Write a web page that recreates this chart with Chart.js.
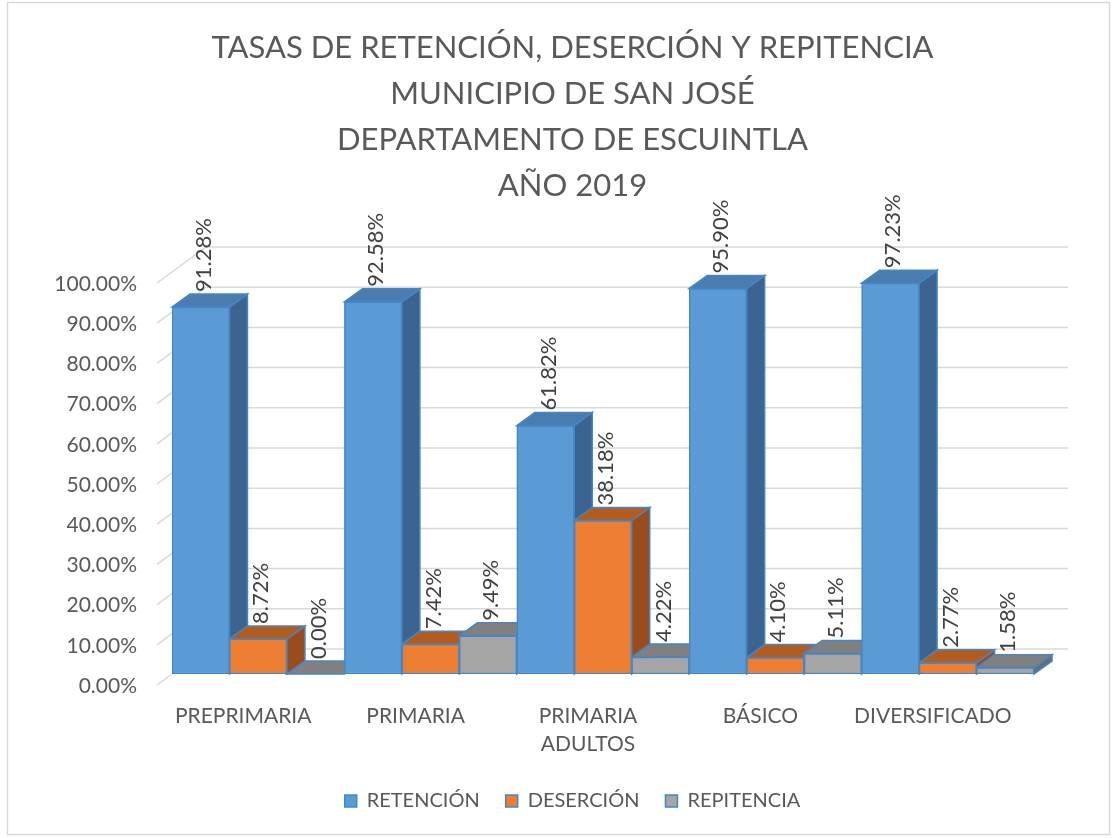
<!DOCTYPE html>
<html><head><meta charset="utf-8">
<script src="https://cdn.jsdelivr.net/npm/chart.js@4.4.1/dist/chart.umd.min.js"></script>
<style>html,body{margin:0;padding:0;background:#fff}#wrap{width:1117px;height:838px}</style>
</head><body><div id="wrap"><canvas id="c" width="1117" height="838"></canvas></div>
<script>
const titleLines = ['TASAS DE RETENCIÓN, DESERCIÓN Y REPITENCIA','MUNICIPIO DE SAN JOSÉ','DEPARTAMENTO DE ESCUINTLA','AÑO 2019'];
const categories = ['PREPRIMARIA','PRIMARIA',['PRIMARIA','ADULTOS'],'BÁSICO','DIVERSIFICADO'];
const seriesNames = ['RETENCIÓN','DESERCIÓN','REPITENCIA'];
const retencion = [91.28, 92.58, 61.82, 95.90, 97.23];
const desercion = [8.72, 7.42, 38.18, 4.10, 2.77];
const repitencia = [0.00, 9.49, 4.22, 5.11, 1.58];
const yMin = 0, yMax = 100, yStep = 10;

const frontColors = ['#5b9bd5', '#ed7d31', '#a5a5a5'];
const topColors = ['#4a7cb0', '#b35c20', '#808080'];
const sideColors = ['#3b6590', '#9a4c1c', '#6e6e6e'];
const edgeColor = '#4586c6';
const FONT = 'Lato';

const DEPTH = {dx: 18, dy: 13};
const WALL = {dx: 34, dy: 25};
const FRONT = {dx: -15, dy: 11};

function poly(ctx, pts, fill) {
  ctx.beginPath();
  ctx.moveTo(pts[0][0], pts[0][1]);
  for (let k = 1; k < pts.length; k++) ctx.lineTo(pts[k][0], pts[k][1]);
  ctx.closePath();
  ctx.fillStyle = fill; ctx.fill();
  ctx.strokeStyle = edgeColor; ctx.lineWidth = 1.5; ctx.stroke();
}

const threeD = {
  id: 'threeD',
  beforeDraw(chart) {
    const ctx = chart.ctx;
    ctx.save();
    ctx.fillStyle = '#fff';
    ctx.fillRect(0, 0, chart.width, chart.height);
    ctx.strokeStyle = '#d9d9d9'; ctx.lineWidth = 1.5;
    ctx.strokeRect(7.5, 2.5, chart.width - 15, chart.height - 6);
    ctx.restore();
  },
  beforeDatasetsDraw(chart) {
    const {ctx, chartArea: a, scales: {y}} = chart;
    ctx.save();
    ctx.strokeStyle = '#d9d9d9'; ctx.lineWidth = 1.5;
    for (let v = yMin; v <= yMax; v += yStep) {
      const py = y.getPixelForValue(v);
      ctx.beginPath();
      ctx.moveTo(a.left + FRONT.dx, py + FRONT.dy);
      ctx.lineTo(a.left + WALL.dx, py - WALL.dy);
      ctx.lineTo(a.right + WALL.dx, py - WALL.dy);
      ctx.stroke();
    }
    const n = chart.data.labels.length;
    for (let i = 0; i < n; i++) {
      for (let d = 0; d < chart.data.datasets.length; d++) {
        const el = chart.getDatasetMeta(d).data[i];
        const L = el.x - el.width / 2, R = el.x + el.width / 2, T = el.y, B = el.base;
        poly(ctx, [[R, T], [R + DEPTH.dx, T - DEPTH.dy], [R + DEPTH.dx, B - DEPTH.dy], [R, B]], sideColors[d]);
        poly(ctx, [[L, T], [L + DEPTH.dx, T - DEPTH.dy], [R + DEPTH.dx, T - DEPTH.dy], [R, T]], topColors[d]);
      }
    }
    ctx.restore();
  },
  afterDatasetsDraw(chart) {
    const ctx = chart.ctx;
    ctx.save();
    ctx.fillStyle = '#404040';
    ctx.font = '22px ' + FONT;
    ctx.textAlign = 'left'; ctx.textBaseline = 'middle';
    chart.data.datasets.forEach((ds, d) => {
      chart.getDatasetMeta(d).data.forEach((el, i) => {
        ctx.save();
        ctx.translate(el.x + 3, el.y - DEPTH.dy - 2);
        ctx.rotate(-Math.PI / 2);
        ctx.fillText(ds.data[i].toFixed(2) + '%', 0, 0);
        ctx.restore();
      });
    });
    ctx.restore();
  }
};

const seriesData = [retencion, desercion, repitencia];
new Chart(document.getElementById('c'), {
  type: 'bar',
  data: {
    labels: categories,
    datasets: seriesData.map((arr, d) => ({
      label: seriesNames[d],
      data: arr,
      backgroundColor: frontColors[d],
      borderColor: edgeColor,
      borderWidth: 1.5,
      borderSkipped: false,
      categoryPercentage: 1,
      barPercentage: 1
    }))
  },
  options: {
    responsive: false,
    animation: false,
    devicePixelRatio: 1,
    layout: {padding: {left: 28, right: 0, top: 0, bottom: 17}},
    plugins: {
      title: {
        display: true, text: titleLines, color: '#595959',
        font: {family: FONT, size: 31, weight: 'normal', lineHeight: 46 / 31},
        padding: {top: 25, bottom: 63}
      },
      legend: {
        position: 'bottom',
        labels: {color: '#595959', font: {family: FONT, size: 20}, boxWidth: 12, boxHeight: 12, padding: 26}
      },
      tooltip: {enabled: false}
    },
    scales: {
      x: {
        grid: {display: false, drawTicks: false},
        border: {display: false},
        ticks: {color: '#595959', font: {family: FONT, size: 21, lineHeight: 28 / 21}, labelOffset: FRONT.dx, padding: 28, maxRotation: 0, autoSkip: false},
        afterFit(s) { s.height = 91; }
      },
      y: {
        min: yMin, max: yMax,
        grid: {display: false, drawTicks: false},
        border: {display: false},
        ticks: {stepSize: yStep, color: '#595959', font: {family: FONT, size: 21}, labelOffset: 12, padding: 35,
          callback: v => v.toFixed(2) + '%'},
        afterFit(s) { s.width = 144; }
      },
      y2: {
        type: 'linear', position: 'right', display: true,
        grid: {display: false, drawTicks: false}, border: {display: false},
        ticks: {display: false},
        afterFit(s) { s.width = 83; }
      }
    }
  },
  plugins: [threeD]
});
</script>
</body></html>
